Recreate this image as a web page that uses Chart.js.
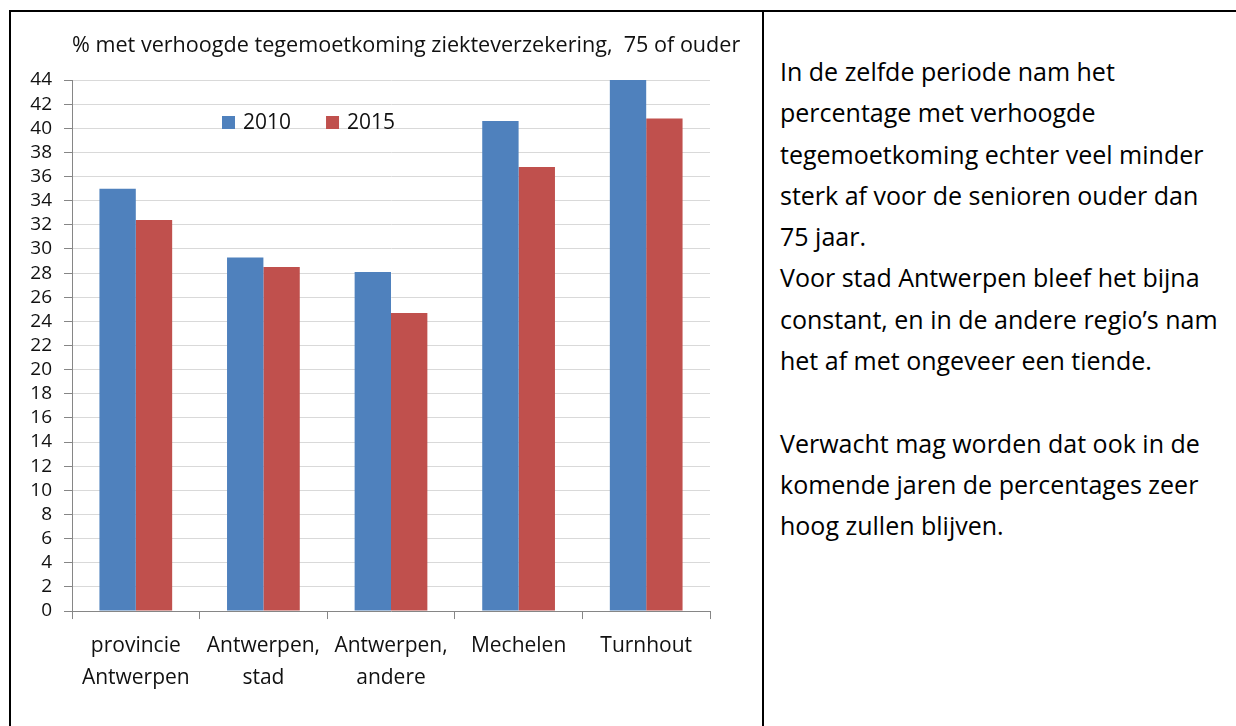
<!DOCTYPE html>
<html>
<head>
<meta charset="utf-8">
<script src="https://cdn.jsdelivr.net/npm/chart.js@4.4.1/dist/chart.umd.min.js"></script>
<style>
    body { margin: 0; background: #fff; width: 1236px; height: 726px; overflow: hidden; position: relative; font-family: 'Open Sans', sans-serif; }
    .line { position: absolute; background: #000; }
    #chartBox { position: absolute; left: 12px; top: 12px; width: 750px; height: 714px; }
    #note { position: absolute; left: 780px; top: 51px; font-size: 25px; line-height: 41.3px; color: #000; white-space: nowrap; }
</style>
</head>
<body>
<div class="line" style="left:9px; top:10px; width:1227px; height:2px;"></div>
<div class="line" style="left:9px; top:10px; width:2px; height:716px;"></div>
<div class="line" style="left:762px; top:10px; width:2px; height:716px;"></div>

<div id="chartBox"><canvas id="chart"></canvas></div>

<div id="note">
In de zelfde periode nam het<br>
percentage met verhoogde<br>
tegemoetkoming echter veel minder<br>
sterk af voor de senioren ouder dan<br>
75 jaar.<br>
Voor stad Antwerpen bleef het bijna<br>
constant, en in de andere regio’s nam<br>
het af met ongeveer een tiende.<br>
<br>
Verwacht mag worden dat ook in de<br>
komende jaren de percentages zeer<br>
hoog zullen blijven.
</div>

<script>
const chartTitle = '% met verhoogde tegemoetkoming ziekteverzekering,  75 of ouder';
const categories = [['provincie', 'Antwerpen'], ['Antwerpen,', 'stad'], ['Antwerpen,', 'andere'], 'Mechelen', 'Turnhout'];
const seriesNames = ['2010', '2015'];
const values2010 = [35.0, 29.3, 28.1, 40.6, 44.0];
const values2015 = [32.4, 28.5, 24.7, 36.8, 40.8];
const yMin = 0;
const yMax = 44;
const yStep = 2;

const FONT = "'Open Sans', sans-serif";
const axisGray = '#868686';

// title starts at the plot's left edge and may run past its right edge,
// which the built-in title would squeeze, so draw it here
const leftTitle = {
    id: 'leftTitle',
    afterDraw: function(chart) {
        const ctx = chart.ctx;
        ctx.save();
        ctx.font = '21.6px ' + FONT;
        ctx.fillStyle = '#111';
        ctx.textBaseline = 'middle';
        ctx.textAlign = 'left';
        ctx.fillText(chartTitle, chart.chartArea.left, 34);
        ctx.restore();
    }
};

// legend sits inside the plot area, like in the Excel original
const innerLegend = {
    id: 'innerLegend',
    afterDraw: function(chart) {
        const ctx = chart.ctx;
        const area = chart.chartArea;
        let x = area.left + 150;
        const y = area.top + 43;
        ctx.save();
        ctx.font = '21px ' + FONT;
        ctx.textBaseline = 'middle';
        ctx.textAlign = 'left';
        chart.data.datasets.forEach(function(ds) {
            ctx.fillStyle = ds.backgroundColor;
            ctx.fillRect(x, y - 7, 13, 13);
            ctx.fillStyle = '#111';
            ctx.fillText(ds.label, x + 21, y);
            x += 21 + ctx.measureText(ds.label).width + 35;
        });
        ctx.restore();
    }
};

const ctx = document.getElementById('chart').getContext('2d');
const chart = new Chart(ctx, {
    type: 'bar',
    data: {
        labels: categories,
        datasets: [
            { label: seriesNames[0], data: values2010, backgroundColor: '#4F81BD' },
            { label: seriesNames[1], data: values2015, backgroundColor: '#C0504D' }
        ]
    },
    options: {
        responsive: true,
        maintainAspectRatio: false,
        animation: false,
        categoryPercentage: 0.57,
        barPercentage: 1.0,
        layout: { padding: { top: 68, left: 0, right: 52, bottom: 21 } },
        plugins: {
            legend: { display: false },
            tooltip: { enabled: false },
            title: { display: false }
        },
        scales: {
            x: {
                border: { color: axisGray },
                grid: { offset: true, drawOnChartArea: false, tickLength: 8, color: axisGray },
                ticks: {
                    autoSkip: false,
                    maxRotation: 0,
                    padding: 10,
                    color: '#111',
                    font: { family: FONT, size: 21, lineHeight: 1.57 }
                }
            },
            y: {
                min: yMin,
                max: yMax,
                border: { color: axisGray },
                grid: { color: '#d9d9d9', tickColor: axisGray, tickLength: 8 },
                ticks: {
                    stepSize: yStep,
                    autoSkip: false,
                    padding: 12,
                    color: '#111',
                    font: { family: FONT, size: 19 }
                },
                afterFit: function(scale) {
                    scale.width = 60;
                }
            }
        }
    },
    plugins: [leftTitle, innerLegend]
});
</script>
</body>
</html>
